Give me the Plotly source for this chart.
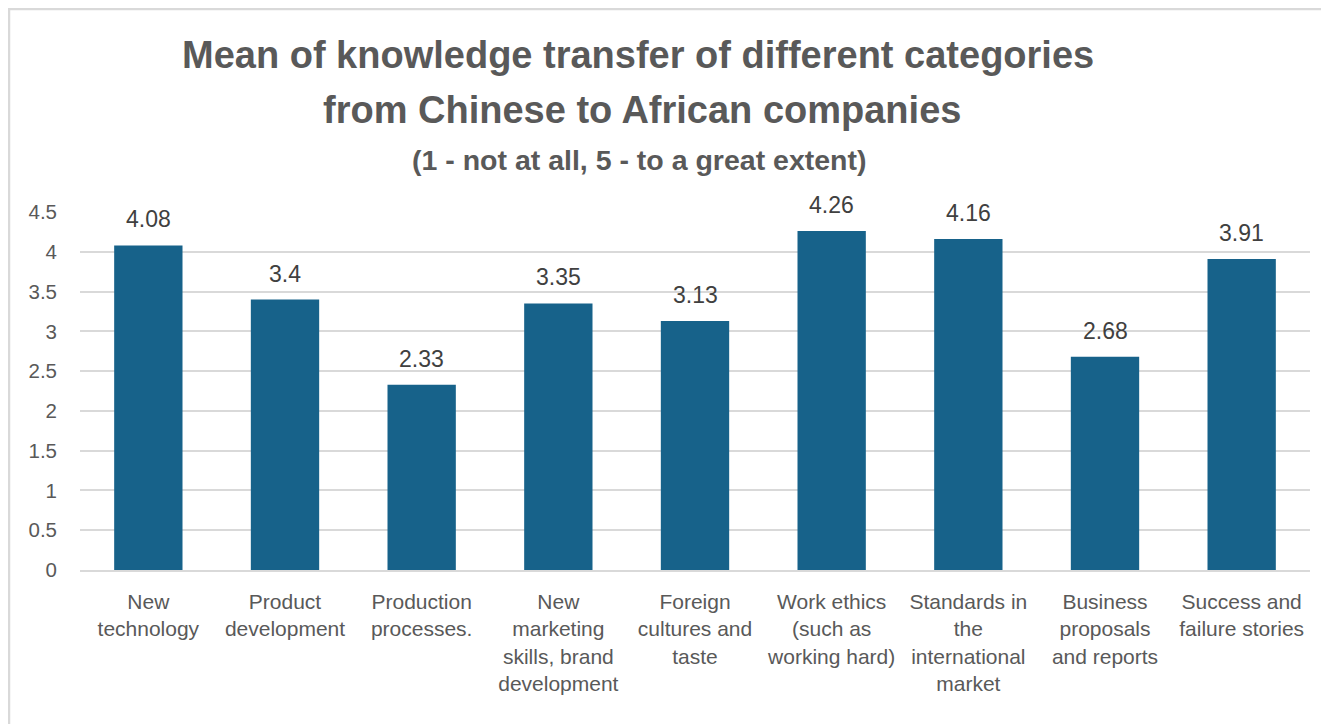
import plotly.graph_objects as go

categories = [
    "New<br>technology",
    "Product<br>development",
    "Production<br>processes.",
    "New<br>marketing<br>skills, brand<br>development",
    "Foreign<br>cultures and<br>taste",
    "Work ethics<br>(such as<br>working hard)",
    "Standards in<br>the<br>international<br>market",
    "Business<br>proposals<br>and reports",
    "Success and<br>failure stories",
]
values = [4.08, 3.4, 2.33, 3.35, 3.13, 4.26, 4.16, 2.68, 3.91]
value_labels = ["4.08", "3.4", "2.33", "3.35", "3.13", "4.26", "4.16", "2.68", "3.91"]
y_ticks = [0, 0.5, 1, 1.5, 2, 2.5, 3, 3.5, 4, 4.5]
y_tick_labels = ["0", "0.5", "1", "1.5", "2", "2.5", "3", "3.5", "4", "4.5"]

# page has an 8px body margin, so figure coords = screen coords - 8
OFF = 8
W, H = 1321, 716
ML, MR, MT, MB = 80 - OFF, 19, 212 - OFF, 154
PH = H - MT - MB
PW = W - ML - MR


def py(p):
    return (H - MB - (p - OFF)) / PH


def px(p):
    return ((p - OFF) - ML) / PW


fig = go.Figure()
fig.add_trace(go.Bar(
    x=list(range(len(categories))),
    y=values,
    marker=dict(color="#17628a", line=dict(width=0)),
    hoverinfo="skip",
))

for i, (v, lab) in enumerate(zip(values, value_labels)):
    fig.add_annotation(x=i, y=v, text=lab, showarrow=False, yanchor="bottom",
                       yshift=11, font=dict(family="Liberation Sans", size=23, color="#404040"))

title_font = dict(family="Liberation Sans", size=38, color="#595959")
fig.add_annotation(xref="paper", yref="paper", x=px(638), y=py(55), yanchor="middle",
                   text="<b>Mean of knowledge transfer of different categories</b>",
                   showarrow=False, font=title_font)
fig.add_annotation(xref="paper", yref="paper", x=px(642), y=py(110), yanchor="middle",
                   text="<b>from Chinese to African companies</b>",
                   showarrow=False, font=title_font)
fig.add_annotation(xref="paper", yref="paper", x=px(639), y=py(160), yanchor="middle",
                   text="<b>(1 - not at all, 5 - to a great extent)</b>",
                   showarrow=False, font=dict(family="Liberation Sans", size=28.5, color="#595959"))

# outer frame (top and left edges visible)
fig.add_shape(type="line", xref="paper", yref="paper", x0=px(8), x1=px(1340), y0=py(9), y1=py(9),
              line=dict(color="#d9d9d9", width=2.5))
fig.add_shape(type="line", xref="paper", yref="paper", x0=px(9), x1=px(9), y0=py(8), y1=py(740),
              line=dict(color="#d9d9d9", width=2.5))

fig.update_layout(
    width=W, height=H,
    margin=dict(l=ML, r=MR, t=MT, b=MB, autoexpand=False),
    paper_bgcolor="white", plot_bgcolor="white",
    bargap=0.5, showlegend=False,
    xaxis=dict(
        tickmode="array", tickvals=list(range(len(categories))), ticktext=categories,
        range=[-0.5, len(categories) - 0.5], tickangle=0,
        tickfont=dict(family="Liberation Sans", size=21, color="#595959"),
        showgrid=False, zeroline=False, showline=True, linecolor="#d9d9d9", linewidth=1.5,
        ticks="", ticklabelstandoff=12,
    ),
    yaxis=dict(
        range=[0, 4.5], tickmode="array", tickvals=y_ticks, ticktext=y_tick_labels,
        tickfont=dict(family="Liberation Sans", size=20.5, color="#595959"),
        showgrid=True, gridcolor="#d9d9d9", gridwidth=1.5, zeroline=False,
        showline=False, ticks="", ticklabelstandoff=22,
    ),
)

fig.write_html("out.html")
